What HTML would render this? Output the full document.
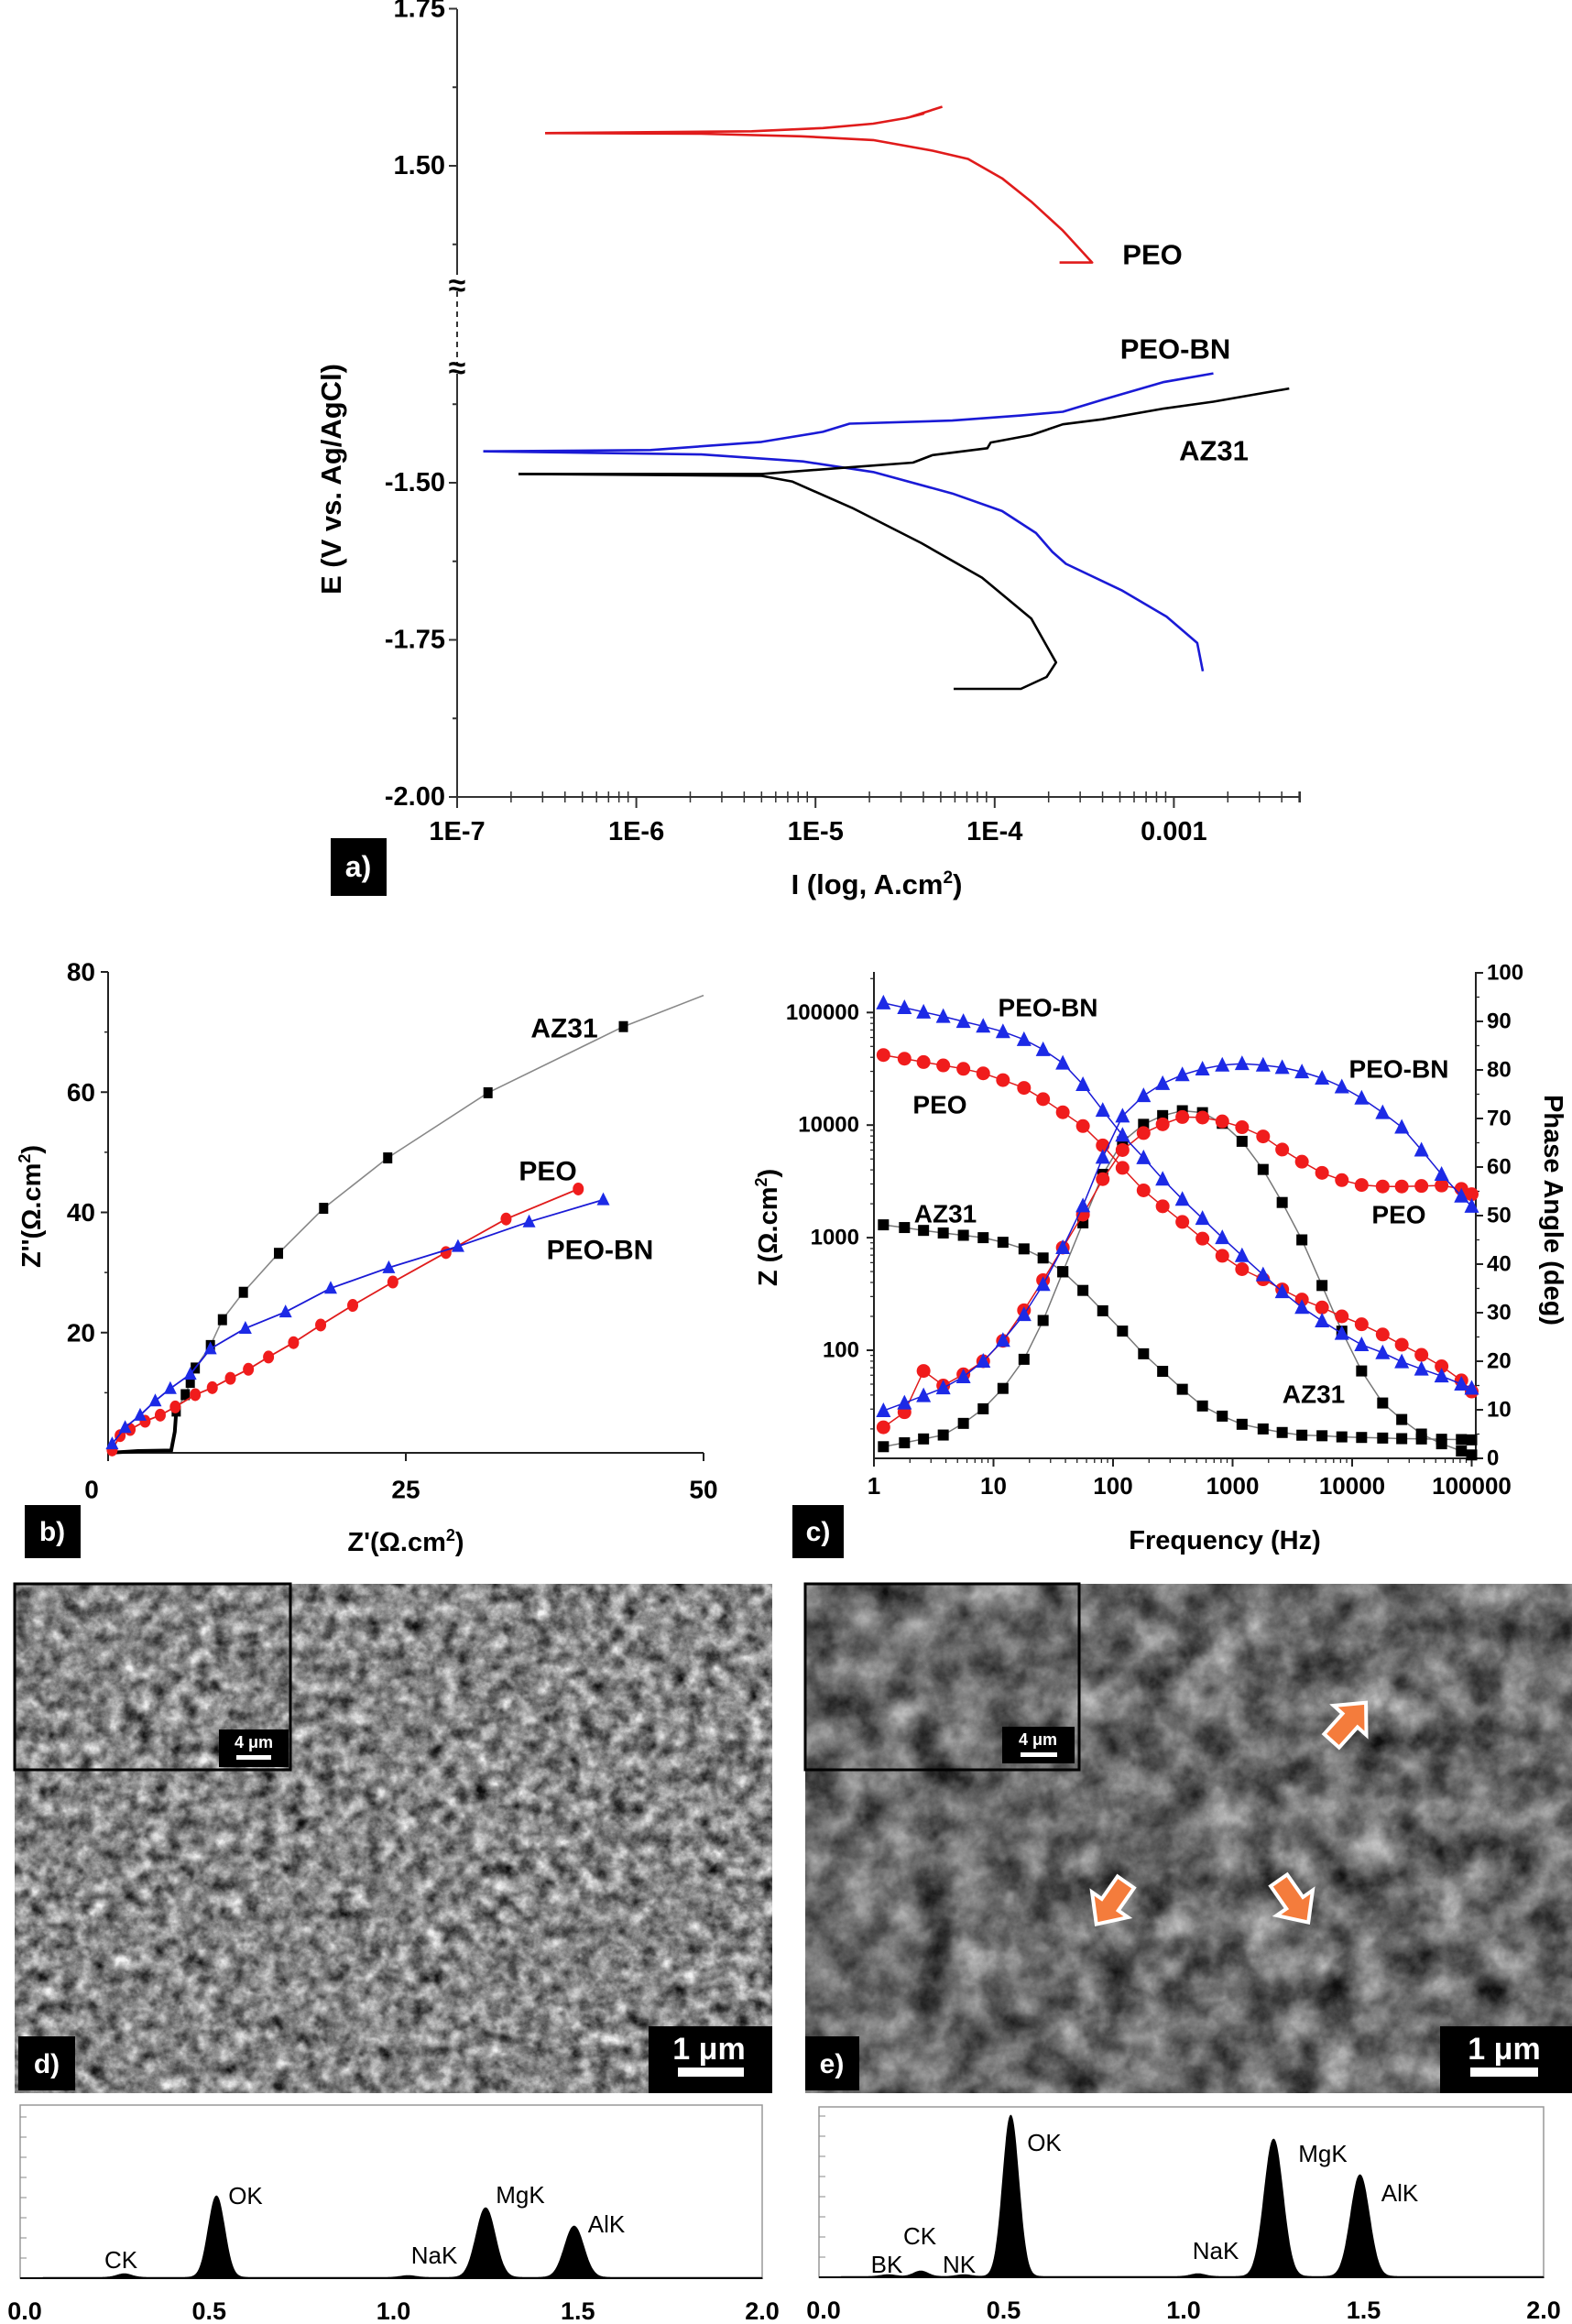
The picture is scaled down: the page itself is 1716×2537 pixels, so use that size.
<!DOCTYPE html>
<html><head><meta charset="utf-8"><title>Electrochemical and SEM/EDS figure</title>
<style>
html,body{margin:0;padding:0;background:#fff;}
svg{display:block;}
text{font-family:"Liberation Sans",Arial,sans-serif;}
.b{font-weight:bold;}
</style></head>
<body>
<svg id="chart" xmlns="http://www.w3.org/2000/svg" width="1716" height="2537" viewBox="0 0 1716 2537">
<defs>
<filter id="semD" x="0" y="0" width="100%" height="100%" color-interpolation-filters="sRGB">
<feTurbulence type="fractalNoise" baseFrequency="0.06" numOctaves="5" seed="4"/>
<feColorMatrix type="matrix" values="0.33 0.33 0.33 0 0  0.33 0.33 0.33 0 0  0.33 0.33 0.33 0 0  0 0 0 0 1"/>
<feComponentTransfer><feFuncR type="linear" slope="2.0" intercept="-0.47"/><feFuncG type="linear" slope="2.0" intercept="-0.47"/><feFuncB type="linear" slope="2.0" intercept="-0.47"/></feComponentTransfer>
</filter>
<filter id="semE" x="0" y="0" width="100%" height="100%" color-interpolation-filters="sRGB">
<feTurbulence type="fractalNoise" baseFrequency="0.025" numOctaves="5" seed="9"/>
<feColorMatrix type="matrix" values="0.33 0.33 0.33 0 0  0.33 0.33 0.33 0 0  0.33 0.33 0.33 0 0  0 0 0 0 1"/>
<feComponentTransfer><feFuncR type="linear" slope="1.7" intercept="-0.43"/><feFuncG type="linear" slope="1.7" intercept="-0.43"/><feFuncB type="linear" slope="1.7" intercept="-0.43"/></feComponentTransfer>
</filter>
</defs>
<rect x="0" y="0" width="1716" height="2537" fill="#fff"/>

<g>
<text x="372" y="523" class="b" font-size="31" text-anchor="middle" transform="rotate(-90 372 523)">E (V vs. Ag/AgCl)</text>
<text x="957" y="976" class="b" font-size="31" text-anchor="middle">I (log, A.cm<tspan font-size="19" dy="-12">2</tspan><tspan dy="12">)</tspan></text>
<rect x="361" y="915" width="61" height="63" fill="#000"/>
<text x="391" y="957" font-family="Liberation Serif" font-weight="bold" font-size="32" fill="#fff" text-anchor="middle">a)</text>
</g>

<g>
<text x="44" y="1317" class="b" font-size="29" text-anchor="middle" transform="rotate(-90 44 1317)">Z''(Ω.cm<tspan font-size="18" dy="-11">2</tspan><tspan dy="11">)</tspan></text>
<text x="443" y="1693" class="b" font-size="29" text-anchor="middle">Z'(Ω.cm<tspan font-size="18" dy="-11">2</tspan><tspan dy="11">)</tspan></text>
<rect x="27" y="1643" width="61" height="58" fill="#000"/>
<text x="57" y="1682" font-family="Liberation Serif" font-weight="bold" font-size="30" fill="#fff" text-anchor="middle">b)</text>
</g>

<g>
<text x="848" y="1340" class="b" font-size="29" text-anchor="middle" transform="rotate(-90 848 1340)">Z (Ω.cm<tspan font-size="18" dy="-11">2</tspan><tspan dy="11">)</tspan></text>
<text x="1686" y="1321" class="b" font-size="29" text-anchor="middle" transform="rotate(90 1686 1321)">Phase Angle (deg)</text>
<text x="1337" y="1691" class="b" font-size="29" text-anchor="middle">Frequency (Hz)</text>
<rect x="865" y="1643" width="56" height="58" fill="#000"/>
<text x="893" y="1682" font-family="Liberation Serif" font-weight="bold" font-size="30" fill="#fff" text-anchor="middle">c)</text>
</g>

<g>
<rect x="16" y="1729" width="827" height="556" fill="#858585"/>
<rect x="16" y="1729" width="827" height="556" filter="url(#semD)" opacity="0.9"/>
<rect x="16" y="1729" width="301" height="203" fill="none" stroke="#000" stroke-width="3"/>
<rect x="239" y="1888" width="76" height="41" fill="#000"/>
<text x="277" y="1908" font-family="Liberation Serif" font-weight="bold" font-size="18" fill="#fff" text-anchor="middle">4 μm</text>
<rect x="258" y="1916" width="38" height="5" fill="#fff"/>
<rect x="708" y="2212" width="135" height="73" fill="#000"/>
<text x="774" y="2248" font-family="Liberation Serif" font-weight="bold" font-size="34" fill="#fff" text-anchor="middle">1 μm</text>
<rect x="740" y="2257" width="72" height="10" fill="#fff"/>
<rect x="20" y="2223" width="62" height="59" fill="#000"/>
<text x="51" y="2263" font-family="Liberation Serif" font-weight="bold" font-size="30" fill="#fff" text-anchor="middle">d)</text>
</g>

<g>
<rect x="879" y="1729" width="837" height="556" fill="#6a6a6a"/>
<rect x="879" y="1729" width="837" height="556" filter="url(#semE)" opacity="0.85"/>
<rect x="879" y="1729" width="299" height="203" fill="none" stroke="#000" stroke-width="3"/>
<rect x="1094" y="1885" width="79" height="40" fill="#000"/>
<text x="1133" y="1905" font-family="Liberation Serif" font-weight="bold" font-size="18" fill="#fff" text-anchor="middle">4 μm</text>
<rect x="1114" y="1913" width="40" height="5" fill="#fff"/>
<rect x="1572" y="2212" width="144" height="73" fill="#000"/>
<text x="1642" y="2248" font-family="Liberation Serif" font-weight="bold" font-size="34" fill="#fff" text-anchor="middle">1 μm</text>
<rect x="1605" y="2257" width="74" height="10" fill="#fff"/>
<rect x="879" y="2223" width="59" height="59" fill="#000"/>
<text x="908" y="2263" font-family="Liberation Serif" font-weight="bold" font-size="30" fill="#fff" text-anchor="middle">e)</text>
<polygon points="-26,-11 4,-11 4,-24 30,0 4,24 4,11 -26,11" fill="#f47c3c" stroke="#fff" stroke-width="4" transform="translate(1471 1881) rotate(-48)"/>
<polygon points="-26,-11 4,-11 4,-24 30,0 4,24 4,11 -26,11" fill="#f47c3c" stroke="#fff" stroke-width="4" transform="translate(1214 2076) rotate(125)"/>
<polygon points="-26,-11 4,-11 4,-24 30,0 4,24 4,11 -26,11" fill="#f47c3c" stroke="#fff" stroke-width="4" transform="translate(1411 2074) rotate(55)"/>
</g>
</svg>

<script>
// ---------- Panel a data (current A/cm2, potential V) ----------
const peoCathI = [3.1e-7,2.3e-6,8.3e-6,2.1e-5,4.5e-5,7.1e-5,1.1e-4,1.6e-4,2.4e-4,3.5e-4,2.3e-4];
const peoCathE = [1.552,1.551,1.547,1.541,1.524,1.511,1.480,1.443,1.397,1.346,1.346];
const peoAnodI = [3.1e-7,4.4e-6,1.1e-5,2.1e-5,3.2e-5,4.0e-5,3.4e-5,5.1e-5];
const peoAnodE = [1.552,1.555,1.560,1.567,1.576,1.583,1.578,1.594];
const bnAnodI = [1.4e-7,1.2e-6,5.0e-6,1.1e-5,1.55e-5,5.8e-5,1.4e-4,2.4e-4,4.0e-4,8.7e-4,1.66e-3];
const bnAnodE = [-1.450,-1.448,-1.435,-1.419,-1.406,-1.401,-1.393,-1.387,-1.368,-1.340,-1.326];
const bnCathI = [1.4e-7,2.3e-6,8.5e-6,2.1e-5,5.8e-5,1.1e-4,1.7e-4,2.1e-4,2.5e-4,5.1e-4,9.1e-4,1.35e-3,1.45e-3];
const bnCathE = [-1.450,-1.455,-1.466,-1.483,-1.517,-1.545,-1.580,-1.610,-1.629,-1.671,-1.713,-1.755,-1.800];
const azAnodI = [2.2e-7,5.0e-6,1.6e-5,3.5e-5,4.5e-5,9.1e-5,9.5e-5,1.6e-4,2.4e-4,4.0e-4,8.7e-4,1.66e-3,4.4e-3];
const azAnodE = [-1.486,-1.486,-1.475,-1.468,-1.456,-1.445,-1.436,-1.424,-1.407,-1.399,-1.382,-1.371,-1.350];
const azCathI = [2.2e-7,5.0e-6,7.4e-6,1.6e-5,3.9e-5,8.5e-5,1.6e-4,2.2e-4,1.95e-4,1.4e-4,5.9e-5];
const azCathE = [-1.486,-1.489,-1.498,-1.540,-1.596,-1.651,-1.716,-1.786,-1.809,-1.828,-1.828];
const aXTicks = [1e-7,1e-6,1e-5,1e-4,1e-3];
const aXTickLabels = ["1E-7","1E-6","1E-5","1E-4","0.001"];
const aYUpperTicks = [1.75,1.50];
const aYLowerTicks = [-1.50,-1.75,-2.00];

// ---------- Panel b data (Nyquist) ----------
const azZre = [0,2.5,5.3,5.6,5.72,6.48,6.90,7.32,8.59,9.60,11.36,14.31,18.10,23.48,31.90,43.27];
const azZim = [0,0.3,0.4,3.5,6.95,9.68,11.72,14.11,17.85,22.15,26.71,33.19,40.68,49.06,59.9,70.9];
const azTailRe = [50];
const azTailIm = [76.1];
const peoZre = [0.34,1.01,1.85,3.11,4.38,5.64,7.32,8.75,10.27,11.78,13.47,15.57,17.85,20.54,23.91,28.37,33.42,39.48];
const peoZim = [0.48,2.86,3.88,5.25,6.27,7.63,9.68,10.84,12.40,13.90,15.94,18.33,21.26,24.53,28.41,33.32,38.9,43.89];
const bnZre = [0.34,1.43,2.69,3.96,5.22,6.90,8.59,11.53,14.90,18.69,23.57,29.38,35.35,41.58];
const bnZim = [1.50,4.22,6.27,8.65,10.70,13.08,17.31,20.72,23.44,27.39,30.80,34.34,38.43,42.11];
const bXTicks = [0,25,50];
const bYTicks = [20,40,60,80];

// ---------- Panel c data (Bode) ----------
const freqs = [1.2,1.8,2.6,3.8,5.6,8.2,12,18,26,38,56,82,120,180,260,380,560,820,1200,1800,2600,3800,5600,8200,12000,18000,26000,38000,56000,82000,100000];
const bnZmod = [121600,110400,100900,92300,83200,75500,67600,57500,46800,35500,22900,13500,8130,5130,3310,2190,1480,1000,692,468,331,240,182,141,112,95,79,68,59,50,46];
const peoZmod = [41900,38900,36300,33900,31600,28800,25100,21400,17000,13000,9800,6600,4170,2630,1900,1380,980,690,525,427,347,282,240,200,170,138,112,91,72,54,43];
const azZmod = [1300,1230,1160,1100,1050,1000,910,795,660,500,340,224,148,93,65,45,32,26,22,20,18.6,17.6,17.4,17,16.8,16.6,16.4,16.3,16.2,16.1,16];
const bnPhase = [9.8,11.4,12.9,14.5,16.8,20.0,24.3,29.6,35.8,43.4,52,62,70.5,74.7,77.2,79.0,80.2,81,81.3,81.0,80.5,79.6,78.3,76.5,74.2,71.2,68.2,63.5,58.5,54,51.9];
const peoPhase = [6.4,9.5,18.0,15.0,17.3,20,24.2,30.5,36.7,43.4,50.2,57.5,63.5,67.0,68.8,70.3,70.2,69.4,68.2,66.3,63.6,61.1,58.8,57.3,56.3,56,56,56.1,56.2,55.5,54.4];
const azPhase = [2.4,3.2,4.0,4.8,7.2,10.2,14.4,20.4,28.4,38.4,48.5,58.5,65.2,68.8,70.6,71.6,71.2,69.0,65.3,59.5,52.7,45.0,35.6,26.2,18,11.4,8,5,3,1.5,0.7];
const cXTicks = [1,10,100,1000,10000,100000];
const cZTicks = [100,1000,10000,100000];
const cPTicks = [0,10,20,30,40,50,60,70,80,90,100];

// ---------- EDS data ----------
const edsDEnergy = [0.27,0.52,1.04,1.25,1.49];
const edsDHeight = [4,89,2,76,56];
const edsDWidth = [0.02,0.022,0.02,0.026,0.026];
const edsDLabels = ["CK","OK","NaK","MgK","AlK"];
const edsEEnergy = [0.18,0.27,0.39,0.52,1.04,1.25,1.49];
const edsEHeight = [2,6,2,176,3,150,111];
const edsEWidth = [0.02,0.02,0.02,0.022,0.02,0.026,0.026];
const edsELabels = ["BK","CK","NK","OK","NaK","MgK","AlK"];
const edsTicks = [0.0,0.5,1.0,1.5,2.0];
const edsTickLabels = ["0.0","0.5","1.0","1.5","2.0"];

const NS = "http://www.w3.org/2000/svg";
const svg = document.getElementById('chart');
function mk(tag, attrs, parent){
  const e = document.createElementNS(NS, tag);
  for (const k in attrs) e.setAttribute(k, attrs[k]);
  (parent || svg).appendChild(e);
  return e;
}
function txt(x, y, s, size, anchor, bold, parent){
  const t = mk('text', {x:x, y:y, 'font-size':size, 'text-anchor':anchor||'middle', 'dominant-baseline':'central', 'font-weight': bold ? 'bold' : 'normal'}, parent);
  t.textContent = s;
  return t;
}

// ===== Panel a =====
const xA = v => 499 + (Math.log10(v) + 7) * 195.6;
const yUp = e => 181 - (e - 1.5) * 686;
const yLo = e => 527 + (-1.5 - e) * 686;
let el;
el = mk('line', {x1:499, y1:10, x2:499, y2:300, stroke:'#333', 'stroke-width':2});


el = mk('line', {x1:499, y1:318, x2:499, y2:396, stroke:'#333', 'stroke-width':2, 'stroke-dasharray':'6,5'});


el = mk('line', {x1:499, y1:408, x2:499, y2:870, stroke:'#333', 'stroke-width':2});


[312, 402].forEach(function(yb){
  el = txt(499, yb, '≈', 34, 'middle', true);
  
  
});
el = mk('line', {x1:499, y1:870, x2:1419, y2:870, stroke:'#333', 'stroke-width':2});


aYUpperTicks.forEach(function(v){
  el = mk('line', {x1:490, y1:yUp(v), x2:499, y2:yUp(v), stroke:'#333', 'stroke-width':2});
  
  
  el = txt(486, yUp(v), v.toFixed(2), 29, 'end', true);
  
  
});
[1.625, 1.375].forEach(function(v){
  el = mk('line', {x1:494, y1:yUp(v), x2:499, y2:yUp(v), stroke:'#333', 'stroke-width':2});
  
  
});
aYLowerTicks.forEach(function(v){
  el = mk('line', {x1:490, y1:yLo(v), x2:499, y2:yLo(v), stroke:'#333', 'stroke-width':2});
  
  
  el = txt(486, yLo(v), v.toFixed(2), 29, 'end', true);
  
  
});
[-1.375, -1.625, -1.875].forEach(function(v){
  el = mk('line', {x1:494, y1:yLo(v), x2:499, y2:yLo(v), stroke:'#333', 'stroke-width':2});
  
  
});
aXTicks.forEach(function(v, i){
  el = mk('line', {x1:xA(v), y1:870, x2:xA(v), y2:882, stroke:'#333', 'stroke-width':2});
  
  
  el = txt(xA(v), 908, aXTickLabels[i], 29, 'middle', true);
  
  
  for (let m = 2; m <= 9; m++){
    const xv = xA(v * m);
    if (xv > 1419) break;
    el = mk('line', {x1:xv, y1:864, x2:xv, y2:876, stroke:'#333', 'stroke-width':1.5});
    
    
  }
});
el = mk('line', {x1:1419, y1:864, x2:1419, y2:876, stroke:'#333', 'stroke-width':2});


function polyA(I, E, yf, color){
  const pts = I.map((v, i) => xA(v).toFixed(1) + ',' + yf(E[i]).toFixed(1)).join(' ');
  return mk('polyline', {points:pts, fill:'none', stroke:color, 'stroke-width':2.6, 'stroke-linejoin':'round'});
}
el = polyA(peoCathI, peoCathE, yUp, '#e01b1b');


el = polyA(peoAnodI, peoAnodE, yUp, '#e01b1b');


el = polyA(bnAnodI, bnAnodE, yLo, '#1a1ad6');


el = polyA(bnCathI, bnCathE, yLo, '#1a1ad6');


el = polyA(azAnodI, azAnodE, yLo, '#000');


el = polyA(azCathI, azCathE, yLo, '#000');


el = txt(1258, 278, 'PEO', 31, 'middle', true);


el = txt(1283, 381, 'PEO-BN', 31, 'middle', true);


el = txt(1325, 492, 'AZ31', 31, 'middle', true);



// ===== Panel b =====
const xB = z => 118 + z * 13.0;
const yB = z => 1586 - z * 6.5625;
el = mk('line', {x1:118, y1:1061, x2:118, y2:1586, stroke:'#222', 'stroke-width':2});


el = mk('line', {x1:118, y1:1586, x2:768, y2:1586, stroke:'#222', 'stroke-width':2});


bYTicks.forEach(function(v){
  el = mk('line', {x1:110, y1:yB(v), x2:118, y2:yB(v), stroke:'#222', 'stroke-width':2});
  
  
  el = txt(104, yB(v), String(v), 28, 'end', true);
  
  
  el = mk('line', {x1:114, y1:yB(v - 10), x2:118, y2:yB(v - 10), stroke:'#222', 'stroke-width':1.5});
  
  
});
bXTicks.forEach(function(v){
  el = mk('line', {x1:xB(v), y1:1586, x2:xB(v), y2:1595, stroke:'#222', 'stroke-width':2});
  
  
  el = txt(xB(v) - (v === 0 ? 18 : 0), 1626, String(v), 28, 'middle', true);
  
  
});
el = mk('polyline', {points: azZre.concat(azTailRe).map((v, i) => xB(v).toFixed(1) + ',' + yB(azZim.concat(azTailIm)[i]).toFixed(1)).join(' '), fill:'none', stroke:'#888', 'stroke-width':1.6});


el = mk('polyline', {points: azZre.slice(0, 5).map((v, i) => xB(v).toFixed(1) + ',' + yB(azZim[i]).toFixed(1)).join(' '), fill:'none', stroke:'#000', 'stroke-width':4});


azZre.forEach(function(v, i){
  if (i < 4) return;
  el = mk('rect', {x:xB(v) - 5, y:yB(azZim[i]) - 6, width:10, height:12, fill:'#000'});
  
  
});
el = mk('polyline', {points: peoZre.map((v, i) => xB(v).toFixed(1) + ',' + yB(peoZim[i]).toFixed(1)).join(' '), fill:'none', stroke:'#e01b1b', 'stroke-width':1.8});


peoZre.forEach(function(v, i){
  el = mk('ellipse', {cx:xB(v), cy:yB(peoZim[i]), rx:6, ry:7, fill:'#f01c1c'});
  
  
});
el = mk('polyline', {points: bnZre.map((v, i) => xB(v).toFixed(1) + ',' + yB(bnZim[i]).toFixed(1)).join(' '), fill:'none', stroke:'#1a1ad6', 'stroke-width':1.8});


bnZre.forEach(function(v, i){
  const cx = xB(v), cy = yB(bnZim[i]);
  el = mk('polygon', {points: cx + ',' + (cy - 8) + ' ' + (cx - 7) + ',' + (cy + 6) + ' ' + (cx + 7) + ',' + (cy + 6), fill:'#1c2ae6'});
  
  
});
el = txt(616, 1123, 'AZ31', 30, 'middle', true);


el = txt(598, 1279, 'PEO', 30, 'middle', true);


el = txt(655, 1365, 'PEO-BN', 30, 'middle', true);



// ===== Panel c =====
const xC = f => 954 + Math.log10(f) * 130.5;
const yZ = z => 1474 - (Math.log10(z) - 2) * 122.9;
const yP = p => 1592 - p * 5.30;
el = mk('line', {x1:954, y1:1061, x2:954, y2:1592, stroke:'#222', 'stroke-width':2});


el = mk('line', {x1:1611, y1:1061, x2:1611, y2:1592, stroke:'#222', 'stroke-width':2});


el = mk('line', {x1:954, y1:1592, x2:1611, y2:1592, stroke:'#222', 'stroke-width':2});


cXTicks.forEach(function(v){
  el = mk('line', {x1:xC(v), y1:1592, x2:xC(v), y2:1601, stroke:'#222', 'stroke-width':2});
  
  
  el = txt(xC(v), 1622, String(v), 26, 'middle', true);
  
  
  for (let m = 2; m <= 9 && v < 100000; m++){
    el = mk('line', {x1:xC(v * m), y1:1592, x2:xC(v * m), y2:1597, stroke:'#222', 'stroke-width':1.3});
    
    
  }
});
cZTicks.forEach(function(v){
  el = mk('line', {x1:946, y1:yZ(v), x2:954, y2:yZ(v), stroke:'#222', 'stroke-width':2});
  
  
  el = txt(938, yZ(v), String(v), 24, 'end', true);
  
  
});
[10, 100, 1000, 10000, 100000].forEach(function(v){
  for (let m = 2; m <= 9; m++){
    const yy = yZ(v * m);
    if (yy < 1061 || yy > 1592) continue;
    el = mk('line', {x1:950, y1:yy, x2:954, y2:yy, stroke:'#222', 'stroke-width':1.2});
    
    
  }
});
cPTicks.forEach(function(v){
  el = mk('line', {x1:1611, y1:yP(v), x2:1619, y2:yP(v), stroke:'#222', 'stroke-width':2});
  
  
  el = txt(1623, yP(v), String(v), 24, 'start', true);
  
  
  if (v < 100){
    el = mk('line', {x1:1611, y1:yP(v + 5), x2:1615, y2:yP(v + 5), stroke:'#222', 'stroke-width':1.3});
    
    
  }
});
function seriesC(vals, yf, color, lineColor, shape, name){
  el = mk('polyline', {points: freqs.map((f, i) => xC(f).toFixed(1) + ',' + yf(vals[i]).toFixed(1)).join(' '), fill:'none', stroke:lineColor, 'stroke-width':1.5});
  
  
  freqs.forEach(function(f, i){
    const cx = xC(f), cy = yf(vals[i]);
    let m;
    if (shape === 'square') m = mk('rect', {x:cx - 6, y:cy - 6, width:12, height:12, fill:color});
    else if (shape === 'circle') m = mk('circle', {cx:cx, cy:cy, r:7.5, fill:color});
    else m = mk('polygon', {points: cx + ',' + (cy - 9) + ' ' + (cx - 8) + ',' + (cy + 7) + ' ' + (cx + 8) + ',' + (cy + 7), fill:color});
    
    
  });
}
seriesC(azZmod, yZ, '#000', '#777', 'square', 'az31-impedance');
seriesC(azPhase, yP, '#000', '#777', 'square', 'az31-phase');
seriesC(peoZmod, yZ, '#f01c1c', '#e01b1b', 'circle', 'peo-impedance');
seriesC(peoPhase, yP, '#f01c1c', '#e01b1b', 'circle', 'peo-phase');
seriesC(bnZmod, yZ, '#1c2ae6', '#1a1ad6', 'triangle', 'peo-bn-impedance');
seriesC(bnPhase, yP, '#1c2ae6', '#1a1ad6', 'triangle', 'peo-bn-phase');
el = txt(1144, 1100, 'PEO-BN', 28, 'middle', true);


el = txt(1026, 1206, 'PEO', 28, 'middle', true);


el = txt(1032, 1325, 'AZ31', 28, 'middle', true);


el = txt(1527, 1167, 'PEO-BN', 28, 'middle', true);


el = txt(1527, 1326, 'PEO', 28, 'middle', true);


el = txt(1434, 1522, 'AZ31', 28, 'middle', true);



// ===== EDS spectra =====
function eds(x0, x1, top, base, perKeV, E, H, Wd, labels, labelPos, name){
  const xE = e => x0 + e * perKeV;
  const yH = h => base - h;
  el = mk('rect', {x:x0 - 5, y:top, width:x1 - x0 + 5, height:base - top, fill:'none', stroke:'#999', 'stroke-width':1.5});
  
  
  for (let k = 1; k <= 8; k++){
    el = mk('line', {x1:x0 - 5, y1:base - k * 22, x2:x0 + 2, y2:base - k * 22, stroke:'#888', 'stroke-width':1});
    
    
  }
  let d = 'M' + xE(0.05).toFixed(1) + ',' + base;
  for (let e = 0.05; e <= 2.0; e += 0.002){
    let h = 0;
    for (let i = 0; i < E.length; i++) h += H[i] * Math.exp(-Math.pow(e - E[i], 2) / (2 * Wd[i] * Wd[i]));
    d += ' L' + xE(e).toFixed(1) + ',' + yH(h + 0.8).toFixed(1);
  }
  d += ' L' + xE(2.0).toFixed(1) + ',' + base + ' Z';
  el = mk('path', {d:d, fill:'#000', stroke:'#000', 'stroke-width':1});
  
  
  el = mk('line', {x1:x0 - 5, y1:base, x2:x1, y2:base, stroke:'#000', 'stroke-width':2});
  
  
  edsTicks.forEach(function(v, i){
    el = txt(xE(v), base + 36, edsTickLabels[i], 27, 'middle', true);
    
    
  });
  labels.forEach(function(s, i){
    el = txt(labelPos[i][0], labelPos[i][1], s, 26, 'middle', false);
    
    
  });
}
eds(27, 832, 2298, 2487, 402.5, edsDEnergy, edsDHeight, edsDWidth, edsDLabels,
  [[132,2467],[268,2397],[474,2462],[568,2396],[662,2428]], 'eds-d');
eds(899, 1685, 2300, 2486, 393, edsEEnergy, edsEHeight, edsEWidth, edsELabels,
  [[968,2472],[1004,2441],[1047,2472],[1140,2339],[1327,2457],[1444,2351],[1528,2394]], 'eds-e');
</script>
</body></html>
